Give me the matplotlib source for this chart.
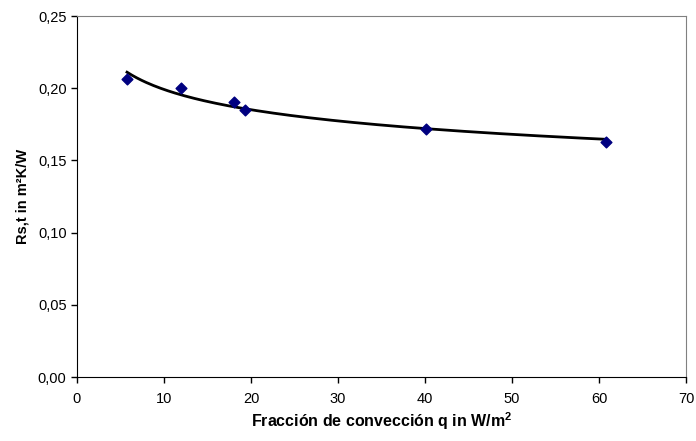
import numpy as np
import matplotlib
matplotlib.use('Agg')
import matplotlib.pyplot as plt
from matplotlib.ticker import FuncFormatter

plt.rcParams['font.family'] = ['Liberation Sans', 'DejaVu Sans']
plt.rcParams['mathtext.fontset'] = 'custom'
plt.rcParams['mathtext.bf'] = 'Liberation Sans:bold'

# datos
q = [5.75, 11.95, 18.05, 19.3, 40.1, 60.8]
rs = [0.2064, 0.2001, 0.1904, 0.1849, 0.1717, 0.1627]
xticks = list(range(0, 71, 10))
yticks = [0.0, 0.05, 0.10, 0.15, 0.20, 0.25]

fig = plt.figure(figsize=(6.96, 4.41), dpi=100)
ax = fig.add_axes([0.1106, 0.145, 0.875, 0.8187])

# linea de tendencia potencial
b, a = np.polyfit(np.log(q), np.log(rs), 1)
xf = np.linspace(min(q), max(q), 200)
ax.plot(xf, np.exp(a) * xf ** b, color='black', lw=2, zorder=2)
ax.scatter(q, rs, marker='D', s=30, color='#000080', zorder=3)

ax.set_xlim(0, 70)
ax.set_ylim(0, 0.25)
ax.set_xticks(xticks)
ax.set_yticks(yticks)
ax.yaxis.set_major_formatter(FuncFormatter(lambda v, p: '{:.2f}'.format(v).replace('.', ',')))
ax.tick_params(labelsize=10.5, direction='out', length=4, width=1)
ax.tick_params(axis='x', pad=7)
for s in ['top', 'right']:
    ax.spines[s].set_color('#808080')
for s in ['left', 'bottom']:
    ax.spines[s].set_color('black')

ax.set_xlabel('Fracción de convección q in W/m$^\\mathbf{2}$', fontsize=11.5, fontweight='bold', labelpad=3)
ax.set_ylabel('Rs,t in m²K/W', fontsize=10.5, fontweight='bold', labelpad=6)

fig.savefig('out.png', dpi=100)
